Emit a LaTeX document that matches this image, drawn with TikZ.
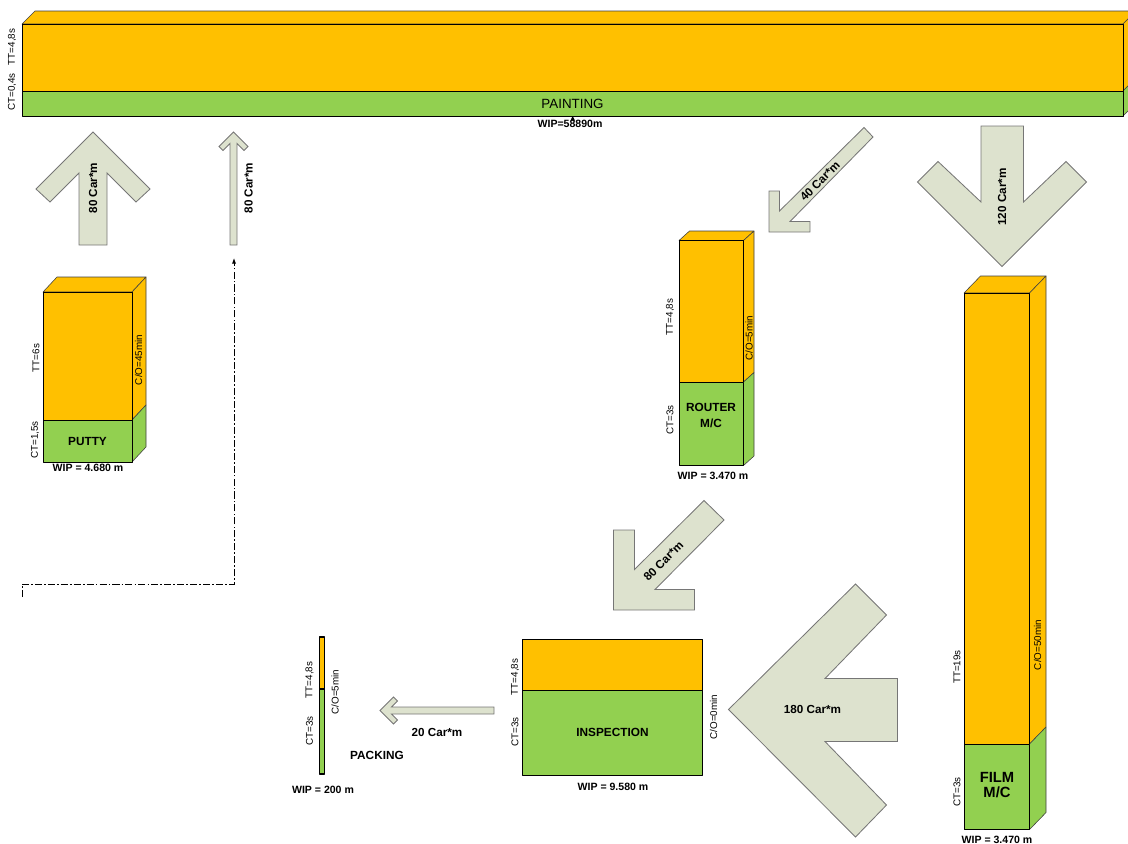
\documentclass[tikz,border=0pt]{standalone}
\usepackage{fontspec}
\setmainfont{Liberation Sans}
\usepackage{tikz}
\usetikzlibrary{arrows.meta}
\definecolor{vsmorange}{RGB}{255,192,0}
\definecolor{vsmgreen}{RGB}{146,208,80}
\definecolor{flowfill}{RGB}{221,226,206}
\definecolor{flowline}{RGB}{118,118,118}
\tikzset{
  face/.style    ={draw=black, line width=0.6pt, line join=round},
  sideface/.style={draw=black!75, line width=0.4pt, line join=round},
  flow/.style    ={draw=flowline, fill=flowfill, line width=0.6pt, line join=miter},
  small/.style   ={font=\fontsize{7}{8}\selectfont, inner sep=0pt},
  vsmall/.style  ={small, rotate=90},
  wip/.style     ={font=\bfseries\fontsize{7.5}{9}\selectfont, inner sep=0pt},
  stname/.style  ={font=\bfseries\fontsize{8.4}{10.7}\selectfont, align=center, inner sep=0pt},
  flowlbl/.style ={font=\bfseries\fontsize{8.3}{10}\selectfont, inner sep=0pt},
  info/.style    ={-{Latex[length=4pt,width=3pt]}, line width=0.7pt,
                   dash pattern=on 5pt off 1.5pt on 1.2pt off 1.5pt},
}
\begin{document}
\begin{tikzpicture}[x=0.025cm,y=-0.025cm]
\useasboundingbox (0,0) rectangle (1128,843);

% painting
\filldraw[sideface,fill=vsmorange] (22,24) -- (35,11) -- (1136,11) -- (1123,24) -- cycle;
\filldraw[sideface,fill=vsmorange] (1123,24) -- (1136,11) -- (1136,78) -- (1123,91) -- cycle;
\filldraw[sideface,fill=vsmgreen] (1123,91) -- (1136,78) -- (1136,103) -- (1123,116) -- cycle;
\draw[face,fill=vsmorange] (22,24) rectangle (1123,91);
\draw[face,fill=vsmgreen] (22,91) rectangle (1123,116)
      node[midway,font=\fontsize{9.5}{11}\selectfont,inner sep=0pt] (paintname) {PAINTING};
\node[vsmall] (painttt) at (12,47) {TT=4,8s};
\node[vsmall] (paintct) at (12,92) {CT=0,4s};
\node[wip] (paintwip) at (570,124) {WIP=58890m};
\fill (572.7,116) -- (570.5,120.5) -- (574.9,120.5) -- cycle;

% putty
\filldraw[sideface,fill=vsmorange] (43,292) -- (57,277) -- (146,277) -- (132,292) -- cycle;
\filldraw[sideface,fill=vsmorange] (132,292) -- (146,277) -- (146,405) -- (132,420) -- cycle;
\filldraw[sideface,fill=vsmgreen] (132,420) -- (146,405) -- (146,447) -- (132,462) -- cycle;
\draw[face,fill=vsmorange] (43,292) rectangle (132,420);
\draw[face,fill=vsmgreen] (43,420) rectangle (132,462) node[midway,stname] (puttyname) {PUTTY};
\node[vsmall] (puttytt) at (36,358) {TT=6s};
\node[vsmall] (puttyct) at (35,440) {CT=1,5s};
\node[vsmall] (puttyco) at (138.5,360) {C/O=45min};
\node[wip] (puttywip) at (88,468) {WIP = 4.680 m};

% router
\filldraw[sideface,fill=vsmorange] (679,240.5) -- (689.5,231) -- (754,231) -- (743.5,240.5) -- cycle;
\filldraw[sideface,fill=vsmorange] (743.5,240.5) -- (754,231) -- (754,372.5) -- (743.5,382) -- cycle;
\filldraw[sideface,fill=vsmgreen] (743.5,382) -- (754,372.5) -- (754,456) -- (743.5,465.5) -- cycle;
\draw[face,fill=vsmorange] (679,240.5) rectangle (743.5,382);
\draw[face,fill=vsmgreen] (679,382) rectangle (743.5,465.5);
\node[stname] (routername) at (711,415.5) {ROUTER\\M/C};
\node[vsmall] (routertt) at (670,317) {TT=4,8s};
\node[vsmall] (routerct) at (670,420) {CT=3s};
\node[vsmall] (routerco) at (749,338) {C/O=5min};
\node[wip] (routerwip) at (713,476) {WIP = 3.470 m};

% film
\filldraw[sideface,fill=vsmorange] (964,293) -- (980.5,276) -- (1046,276) -- (1029.5,293) -- cycle;
\filldraw[sideface,fill=vsmorange] (1029.5,293) -- (1046,276) -- (1046,727) -- (1029.5,744) -- cycle;
\filldraw[sideface,fill=vsmgreen] (1029.5,744) -- (1046,727) -- (1046,812.5) -- (1029.5,829.5) -- cycle;
\draw[face,fill=vsmorange] (964,293) rectangle (1029.5,744);
\draw[face,fill=vsmgreen] (964,744) rectangle (1029.5,829.5);
\node[stname,font=\bfseries\fontsize{10.5}{10.7}\selectfont] (filmname) at (997,785.5) {FILM\\M/C};
\node[vsmall] (filmtt) at (957,667) {TT=19s};
\node[vsmall] (filmct) at (957,792) {CT=3s};
\node[vsmall] (filmco) at (1037.5,645) {C/O=50min};
\node[wip] (filmwip) at (997,840) {WIP = 3.470 m};

% inspection
\draw[face,fill=vsmorange] (522.5,639) rectangle (702.5,690.5);
\draw[face,fill=vsmgreen] (522.5,690.5) rectangle (702.5,775)
      node[midway,stname] (inspname) {INSPECTION};
\node[vsmall] (insptt) at (515,677) {TT=4,8s};
\node[vsmall] (inspct) at (515,732) {CT=3s};
\node[vsmall] (inspco) at (713.5,717) {C/O=0min};
\node[wip] (inspwip) at (613,787) {WIP = 9.580 m};

% packing
\draw[face,line width=1pt,fill=vsmorange] (319.5,637) rectangle (324.5,689);
\draw[face,line width=1pt,fill=vsmgreen] (319.5,689) rectangle (324.5,774);
\node[vsmall] (packtt) at (309.5,680) {TT=4,8s};
\node[vsmall] (packct) at (309.5,731) {CT=3s};
\node[vsmall] (packco) at (335,692) {C/O=5min};
\node[stname] (packname) at (377,755) {PACKING};
\node[wip] (packwip) at (323,789.5) {WIP = 200 m};

% flow arrows
\filldraw[flow] (93,132) -- (150,189) -- (136,202) -- (107,173) -- (107,245) -- (79,245)
      -- (79,173) -- (50,202) -- (36,189) -- cycle;
\node[flowlbl,rotate=90] (puttyflow) at (93,188) {80 Car*m};
\filldraw[flow] (233.5,132) -- (248,146.5) -- (244,150.5) -- (237,143.5) -- (237,245) -- (230,245)
      -- (230,143.5) -- (223,150.5) -- (219,146.5) -- cycle;
\node[flowlbl,rotate=90] (returnflow) at (248.5,188) {80 Car*m};
\filldraw[flow] (769,191) -- (769,232) -- (810,232) -- (810,221.5) -- (790,221.5) -- (873,137)
      -- (864,127.5) -- (779.5,211) -- (779.5,191) -- cycle;
\node[flowlbl,rotate=45] (routerflow) at (820,181) {40 Car*m};
\filldraw[flow] (981,126) -- (1023.5,126) -- (1023.5,202) -- (1066,161.5) -- (1086.5,182)
      -- (1002,266.5) -- (917.5,182) -- (938,161.5) -- (981,202) -- cycle;
\node[flowlbl,rotate=90] (filmflow) at (1002,197) {120 Car*m};
\filldraw[flow] (613.5,530) -- (613.5,610) -- (694.5,610) -- (694.5,589.5) -- (655,589.5)
      -- (724,520) -- (704,500.5) -- (634.5,569.5) -- (634.5,530) -- cycle;
\node[flowlbl,rotate=45] (routerout) at (663.5,561) {80 Car*m};
\filldraw[flow] (728.5,709.5) -- (855.5,584) -- (886.5,615) -- (825,678.5) -- (897.5,678.5)
      -- (897.5,741.5) -- (825,741.5) -- (886.5,805) -- (855.5,837) -- cycle;
\node[flowlbl] (filmout) at (812.5,709.5) {180 Car*m};
\filldraw[flow] (380,710.5) -- (393.5,697) -- (397.5,701) -- (391.5,707) -- (494,707)
      -- (494,714) -- (391.5,714) -- (397.5,720) -- (393.5,724) -- cycle;
\node[flowlbl] (packflow) at (437,732) {20 Car*m};

% information line
\coordinate (infostart) at (22,597);
\coordinate (infoend) at (234,258);
\draw[info] (infostart) |- (infoend |- 0,584) -- (infoend);
\end{tikzpicture}
\end{document}
